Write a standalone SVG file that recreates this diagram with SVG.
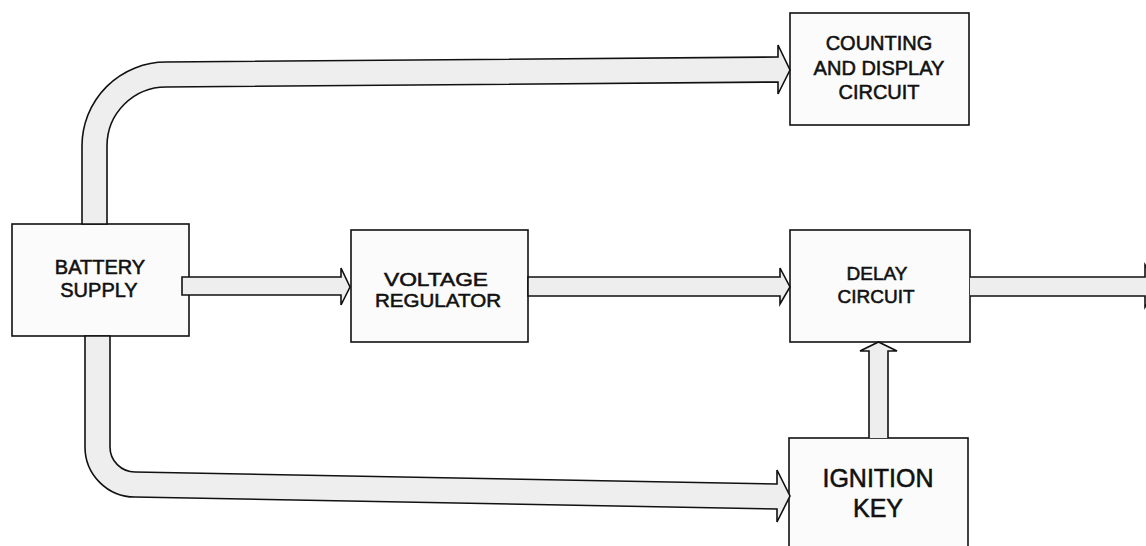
<svg xmlns="http://www.w3.org/2000/svg" width="1146" height="546" viewBox="0 0 1146 546">
<style>
.box{fill:#fbfbfb;stroke:#111;stroke-width:1.6}
.arr{fill:#eeeeee;stroke:#111;stroke-width:1.6;stroke-linejoin:miter}
.lbl{font-family:"Liberation Sans",Arial,sans-serif;fill:#111;stroke:#111;stroke-width:0.55;text-anchor:middle}
</style>
<rect width="1146" height="546" fill="#ffffff"/>
<g id="battery">
<rect class="box" x="12" y="224" width="177" height="112"/>
<text class="lbl" x="100" y="274" font-size="20">BATTERY</text>
<text class="lbl" x="99" y="297" font-size="20">SUPPLY</text>
</g>
<g id="regulator">
<rect class="box" x="351" y="230" width="177" height="112"/>
<text class="lbl" x="436" y="286" font-size="19" textLength="104" lengthAdjust="spacingAndGlyphs">VOLTAGE</text>
<text class="lbl" x="438" y="307" font-size="19" textLength="126" lengthAdjust="spacingAndGlyphs">REGULATOR</text>
</g>
<g id="delay">
<rect class="box" x="790" y="230" width="180" height="112"/>
<text class="lbl" x="877" y="280" font-size="19">DELAY</text>
<text class="lbl" x="876" y="303" font-size="19">CIRCUIT</text>
</g>
<g id="counting">
<rect class="box" x="790" y="13" width="179" height="112"/>
<text class="lbl" x="879" y="50" font-size="20">COUNTING</text>
<text class="lbl" x="879" y="75" font-size="20">AND DISPLAY</text>
<text class="lbl" x="879" y="99" font-size="20">CIRCUIT</text>
</g>
<g id="ignition">
<rect class="box" x="789" y="438" width="179" height="112"/>
<text class="lbl" x="878" y="487" font-size="25">IGNITION</text>
<text class="lbl" x="878" y="517" font-size="25">KEY</text>
</g>
<g id="connectors">
<path class="arr" d="M82,224 L82,146 A84,84 0 0 1 166,62 L778,57 L778,45 L790,70 L778,94 L778,82 L166,87 A59,59 0 0 0 107,146 L107,224 Z"/>
<path class="arr" d="M85,336 L85,447 A50,50 0 0 0 135,497 L777,509 L777,522 L790,496 L777,470 L777,484 L135,472 A25,25 0 0 1 110,447 L110,336 Z"/>
<path class="arr" d="M182,277 L341,277 L341,268 L350,287 L341,305 L341,295 L182,295 Z"/>
<path class="arr" d="M528,277 L780,277 L780,268 L790,287 L780,304 L780,296 L528,296 Z"/>
<path class="arr" d="M970,277 L1145,277 L1145,265 L1158,287 L1145,307 L1145,296 L970,296"/>
<path class="arr" d="M869,438 L869,351 L860,351 L878.5,342 L897,351 L888,351 L888,438"/>
</g>
</svg>
